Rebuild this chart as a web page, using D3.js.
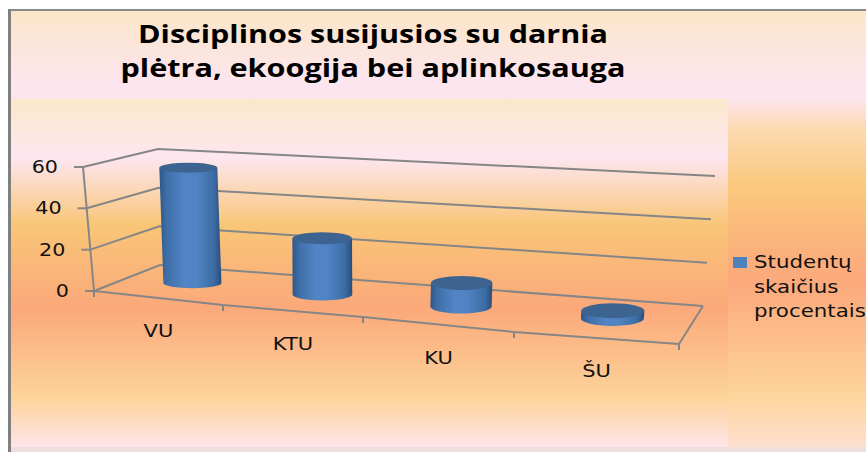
<!DOCTYPE html>
<html lang="en">

<head>
  <meta charset="UTF-8">
  <title>Disciplinos susijusios su darnia plėtra</title>
  <style>
    html, body { margin: 0; padding: 0; background: #fff; }
    svg { display: block; }
    text { font-family: "DejaVu Sans", sans-serif; fill: #111; }
  </style>
</head>

<body>

  <svg id="chart" width="866" height="452"></svg>

  <script src="https://d3js.org/d3.v7.min.js"></script>

  <script>
    // chart data
    var titleLines = ["Disciplinos susijusios su darnia", "plėtra, ekoogija bei aplinkosauga"];
    var categories = ["VU", "KTU", "KU", "ŠU"];
    var values = [57, 27, 11, 3.5];
    var valueTicks = [0, 20, 40, 60];
    var legendLines = ["Studentų", "skaičius", "procentais"];

    var svg = d3.select("#chart"),
      defs = svg.append("defs");

    // the 3D box is a perspective shape, so each floor edge gets its own scale
    var bands = d3.range(categories.length + 1);
    var frontX = d3.scaleLinear().domain(bands).range([94, 223, 363, 514, 679]),
      frontY = d3.scaleLinear().domain(bands).range([291, 305, 317, 332, 344]),
      backX = d3.scaleLinear().domain(bands).range([160, 285, 412, 550, 703]),
      backY = d3.scaleLinear().domain(bands).range([265, 275, 285, 296, 306]);

    // how far one full axis height rises and leans at each corner of the floor
    var riseFront = d3.scaleLinear().domain([0, 4]).range([124, 138]),
      riseBack = d3.scaleLinear().domain([0, 4]).range([116, 130]),
      leanFront = d3.scaleLinear().domain([0, 4]).range([-11, 6]),
      leanBack = d3.scaleLinear().domain([0, 4]).range([-2, 12]),
      valueShare = d3.scaleLinear().domain([0, 60]).range([0, 1]);

    // cylinder size grows towards the right hand side
    var radiusX = d3.scaleLinear().domain([0, 3]).range([29, 31.5]),
      radiusY = d3.scaleLinear().domain([0, 1, 2, 3]).range([5, 6, 7, 7.5]);

    // i = position along the floor, depth 0 = front edge, 1 = back wall
    function project(i, depth, v) {
      var s = valueShare(v);
      var x = d3.interpolateNumber(frontX(i) + leanFront(i) * s, backX(i) + leanBack(i) * s)(depth);
      var y = d3.interpolateNumber(frontY(i) - riseFront(i) * s, backY(i) - riseBack(i) * s)(depth);
      return [x, y];
    }

    function verticalGradient(id, stops) {
      var g = defs.append("linearGradient").attr("id", id)
        .attr("x1", 0).attr("y1", 0).attr("x2", 0).attr("y2", 1);
      stops.forEach(function(s) {
        g.append("stop").attr("offset", s[0]).attr("stop-color", s[1]);
      });
    }

    // the reference text is wider than the installed fonts, stretch it the same way
    function stretch(selection, factor) {
      selection
        .attr("lengthAdjust", "spacingAndGlyphs")
        .attr("textLength", function() { return this.getComputedTextLength() * factor; });
    }

    verticalGradient("outerBg", [
      [0, "#fbe6c8"], [0.17, "#fde5f0"], [0.2, "#fde5ee"], [0.27, "#fcd9b0"],
      [0.4, "#fac87c"], [0.55, "#fbb07c"], [0.62, "#fca97c"], [0.87, "#fdd49b"], [1, "#fde0d4"]
    ]);
    verticalGradient("innerBg", [
      [0, "#fbe8cb"], [0.17, "#fde6f0"], [0.36, "#f9c678"], [0.6, "#fba87a"],
      [0.86, "#fdd49b"], [1, "#fde4ea"]
    ]);

    var bodyGrad = defs.append("linearGradient").attr("id", "cylBody");
    [[0, "#2f5788"], [0.12, "#3f6fa8"], [0.4, "#5285c6"], [0.6, "#5083c3"], [0.88, "#3d6ca4"], [1, "#2a4c78"]]
    .forEach(function(s) {
      bodyGrad.append("stop").attr("offset", s[0]).attr("stop-color", s[1]);
    });

    defs.append("filter").attr("id", "soft")
      .append("feGaussianBlur").attr("stdDeviation", 0.45);

    // backgrounds and frame
    svg.append("rect").attr("x", 9).attr("y", 10).attr("width", 857).attr("height", 442)
      .attr("fill", "url(#outerBg)");
    svg.append("rect").attr("x", 11).attr("y", 99).attr("width", 717).attr("height", 348)
      .attr("fill", "url(#innerBg)");
    svg.append("rect").attr("x", 11).attr("y", 447).attr("width", 855).attr("height", 5)
      .attr("fill", "#eedfdb");
    svg.append("rect").attr("x", 8).attr("y", 9).attr("width", 858).attr("height", 2).attr("fill", "#8a8a8a");
    svg.append("rect").attr("x", 8).attr("y", 9).attr("width", 3).attr("height", 443).attr("fill", "#808080");

    // title
    svg.selectAll("text.title").data(titleLines).enter().append("text")
      .attr("class", "title")
      .attr("x", 373)
      .attr("y", function(d, i) { return 43 + i * 34; })
      .attr("text-anchor", "middle")
      .attr("textLength", function(d, i) { return i ? 505 : 470; })
      .attr("lengthAdjust", "spacingAndGlyphs")
      .style("font-family", "'Open Sans', sans-serif")
      .style("font-weight", 700)
      .style("font-size", "25px")
      .style("fill", "#000")
      .text(function(d) { return d; });

    var axisLine = d3.line();
    var last = categories.length;
    var frame = svg.append("g")
      .attr("fill", "none")
      .attr("stroke", "#868686")
      .attr("stroke-width", 2)
      .attr("filter", "url(#soft)");

    // gridlines on the back and side walls
    valueTicks.forEach(function(v) {
      frame.append("path").attr("d", axisLine([project(0, 0, v), project(0, 1, v), project(last, 1, v)]));
    });

    // value axis with its ticks
    frame.append("path").attr("d", axisLine([project(0, 0, 0), project(0, 0, 60)]));
    frame.selectAll("line.vtick").data(valueTicks).enter().append("line")
      .attr("class", "vtick")
      .attr("x1", function(d) { return project(0, 0, d)[0]; })
      .attr("x2", function(d) { return project(0, 0, d)[0] - 9; })
      .attr("y1", function(d) { return project(0, 0, d)[1]; })
      .attr("y2", function(d) { return project(0, 0, d)[1]; });

    // floor edges and category ticks
    frame.append("path").attr("d", axisLine(bands.map(function(i) { return project(i, 0, 0); })));
    frame.append("path").attr("d", axisLine([project(last, 0, 0), project(last, 1, 0)]));
    frame.selectAll("line.ctick").data(bands).enter().append("line")
      .attr("class", "ctick")
      .attr("x1", function(d) { return project(d, 0, 0)[0]; })
      .attr("x2", function(d) { return project(d, 0, 0)[0]; })
      .attr("y1", function(d) { return project(d, 0, 0)[1]; })
      .attr("y2", function(d) { return project(d, 0, 0)[1] + 6; });

    // value labels
    svg.selectAll("text.vlabel").data(valueTicks).enter().append("text")
      .attr("class", "vlabel")
      .attr("x", function(d) { return project(0, 0, d)[0] - 25; })
      .attr("y", function(d) { return project(0, 0, d)[1] + 6; })
      .attr("text-anchor", "end")
      .style("font-size", "17.5px")
      .text(function(d) { return d; })
      .call(stretch, 1.18);

    // category labels
    svg.selectAll("text.clabel").data(categories).enter().append("text")
      .attr("class", "clabel")
      .attr("x", function(d, i) { return project(i + 0.5, 0, 0)[0]; })
      .attr("y", function(d, i) { return project(i + 0.5, 0, 0)[1] + 39; })
      .attr("text-anchor", "middle")
      .style("font-size", "17.5px")
      .text(function(d) { return d; })
      .call(stretch, 1.2);

    // cylinders
    var depthMid = 0.53;
    var cyl = svg.selectAll("g.cyl").data(values).enter().append("g")
      .attr("class", "cyl")
      .attr("filter", "url(#soft)");

    cyl.append("path")
      .attr("fill", "url(#cylBody)")
      .attr("d", function(d, i) {
        var b = project(i + 0.5, depthMid, 0),
          t = project(i + 0.5, depthMid, d),
          rx = radiusX(i),
          ry = radiusY(i);
        return "M" + (t[0] - rx) + "," + t[1] +
          "L" + (b[0] - rx) + "," + b[1] +
          "A" + rx + "," + ry + " 0 0 0 " + (b[0] + rx) + "," + b[1] +
          "L" + (t[0] + rx) + "," + t[1] + "Z";
      });

    cyl.append("ellipse")
      .attr("fill", "#3c6491")
      .attr("cx", function(d, i) { return project(i + 0.5, depthMid, d)[0]; })
      .attr("cy", function(d, i) { return project(i + 0.5, depthMid, d)[1]; })
      .attr("rx", function(d, i) { return radiusX(i); })
      .attr("ry", function(d, i) { return radiusY(i); });

    // legend
    svg.append("rect").attr("x", 733).attr("y", 257).attr("width", 14).attr("height", 11)
      .attr("fill", "#4f81bd");
    svg.selectAll("text.legend").data(legendLines).enter().append("text")
      .attr("class", "legend")
      .attr("x", 754)
      .attr("y", function(d, i) { return 268 + i * 24.5; })
      .style("font-size", "17.5px")
      .text(function(d) { return d; })
      .call(stretch, 1.22);
  </script>

</body>

</html>
